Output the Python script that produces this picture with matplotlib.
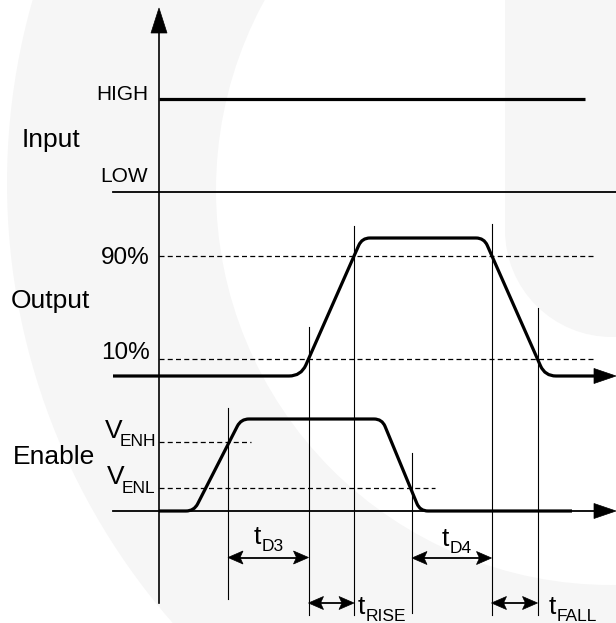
import numpy as np
import matplotlib
matplotlib.use("Agg")
import matplotlib.pyplot as plt
from matplotlib.path import Path
from matplotlib.patches import PathPatch, Circle, Rectangle, Polygon

plt.rcParams['font.family'] = ['Liberation Sans', 'DejaVu Sans']

# ---------------- data (diagram units: x = time, y = level position) ----------------
row_labels = ["Input", "Output", "Enable"]
level_labels = ["HIGH", "LOW", "90%", "10%"]
input_high_y = 99
input_low_y = 191.5
output_levels = [376, 238]            # low, high
output_thresholds = [256, 358.7]      # 90 %, 10 %
output_times = [301, 362, 484, 545]   # rise start, rise end, fall start, fall end
enable_levels = [511, 419]            # low, high
enable_thresholds = [442, 488]        # V_ENH, V_ENL
enable_times = [194, 241, 382, 420]
marker_times = [228, 308.5, 354, 412, 491.5, 537.5]
timing_names = ["D3", "RISE", "D4", "FALL"]

# ---------------- figure ----------------
W, H = 616, 623
fig = plt.figure(figsize=(W / 100, H / 100), dpi=100)
ax = fig.add_axes([0, 0, 1, 1])
ax.set_xlim(0, W)
ax.set_ylim(H, 0)
ax.axis('off')

# faint watermark
wm = '#f6f6f6'
ax.add_patch(Circle((674, 183), 667, fc=wm, ec='none', zorder=0))
ax.add_patch(Circle((611, 190), 395, fc='white', ec='none', zorder=0.1))
ax.add_patch(Rectangle((505, -10), 130, 240, fc=wm, ec='none', zorder=0.2))
ax.add_patch(Circle((612, 230), 107, fc=wm, ec='none', zorder=0.2))
ax.add_patch(Rectangle((612, 220), 20, 117, fc=wm, ec='none', zorder=0.2))

K = 'black'
THICK = 2.3
THIN = 0.8
dash = (0, (4, 2.6))


def rounded_path(pts, radii):
    verts = [pts[0]]
    codes = [Path.MOVETO]
    for i in range(1, len(pts) - 1):
        p0, p1, p2 = (np.array(pts[i - 1], float), np.array(pts[i], float),
                      np.array(pts[i + 1], float))
        d1 = (p1 - p0) / np.linalg.norm(p1 - p0)
        d2 = (p2 - p1) / np.linalg.norm(p2 - p1)
        r = radii[i - 1]
        a = p1 - d1 * r
        b = p1 + d2 * r
        verts += [tuple(a), tuple(p1), tuple(b)]
        codes += [Path.LINETO, Path.CURVE3, Path.CURVE3]
    verts.append(pts[-1])
    codes.append(Path.LINETO)
    return Path(verts, codes)


def double_arrow(x0, x1, y, hl=15, hw=6.5):
    ax.plot([x0 + 4, x1 - 4], [y, y], color=K, lw=1.3, zorder=3)
    for tip, sgn in ((x0, 1), (x1, -1)):
        poly = [(tip, y), (tip + sgn * hl, y - hw), (tip + sgn * hl * 0.8, y),
                (tip + sgn * hl, y + hw)]
        ax.add_patch(Polygon(poly, closed=True, fc=K, ec=K, lw=0.5, zorder=3))


def right_arrowhead(xtip, y, hl=22, hw=7.5):
    poly = [(xtip, y), (xtip - hl, y - hw), (xtip - hl, y + hw)]
    ax.add_patch(Polygon(poly, closed=True, fc=K, ec=K, lw=0.5, zorder=3))


# vertical axis with arrow
axis_x = 159
ax.plot([axis_x, axis_x], [30, 603], color=K, lw=1.2, zorder=3)
ax.add_patch(Polygon([(axis_x, 8), (axis_x - 8, 33), (axis_x + 8, 33)],
                     closed=True, fc=K, ec=K, lw=0.5, zorder=3))

# Input
ax.plot([axis_x, 585], [input_high_y, input_high_y], color=K, lw=THICK, zorder=3,
        solid_capstyle='butt')
ax.plot([113, W], [input_low_y, input_low_y], color=K, lw=1.3, zorder=3)

# Output thresholds
for yy in output_thresholds:
    ax.plot([axis_x, 595], [yy, yy], color=K, lw=0.9, ls=dash, zorder=2)

# Output waveform
lo, hi = output_levels
t0, t1, t2, t3 = output_times
out_pts = [(113, lo), (t0, lo), (t1, hi), (t2, hi), (t3, lo), (596, lo)]
ax.add_patch(PathPatch(rounded_path(out_pts, [12, 8, 8, 11]), fc='none', ec=K,
                       lw=THICK, zorder=4, capstyle='butt', joinstyle='round'))
right_arrowhead(616, lo)

# Enable thresholds
ax.plot([axis_x, 251], [enable_thresholds[0]] * 2, color=K, lw=0.9, ls=dash, zorder=2)
ax.plot([axis_x, 435], [enable_thresholds[1]] * 2, color=K, lw=0.9, ls=dash, zorder=2)

# Enable waveform
elo, ehi = enable_levels
e0, e1, e2, e3 = enable_times
ax.plot([113, 596], [elo, elo], color=K, lw=1.3, zorder=3)
en_pts = [(axis_x, elo), (e0, elo), (e1, ehi), (e2, ehi), (e3, elo), (572, elo)]
ax.add_patch(PathPatch(rounded_path(en_pts, [8, 8, 8, 8]), fc='none', ec=K,
                       lw=THICK, zorder=4, capstyle='butt', joinstyle='round'))
right_arrowhead(616, elo)

# vertical marker lines
marker_spans = [(408, 599), (327, 615), (226, 615), (453, 613), (224, 615), (308, 615)]
for xm, (ya, yb) in zip(marker_times, marker_spans):
    ax.plot([xm, xm], [ya, yb], color=K, lw=THIN, zorder=2)

# timing arrows
m = marker_times
double_arrow(m[0], m[1], 557.5)
double_arrow(m[3], m[4], 558)
double_arrow(m[1], m[2], 603)
double_arrow(m[4], m[5], 603)

# ---------------- text ----------------
ax.text(148, 95, level_labels[0], ha='right', va='center', fontsize=15)
ax.text(148, 176, level_labels[1], ha='right', va='center', fontsize=15)
ax.text(150, 258, level_labels[2], ha='right', va='center', fontsize=17.5)
ax.text(150, 353, level_labels[3], ha='right', va='center', fontsize=17.5)

ax.text(22, 140, row_labels[0], ha='left', va='center', fontsize=19)
ax.text(11, 301, row_labels[1], ha='left', va='center', fontsize=19)
ax.text(13, 457, row_labels[2], ha='left', va='center', fontsize=19)


def sub_label(x, y, main, sub, size=19, subsize=12.5, dx=8, dy=7):
    ax.text(x, y, main, ha='left', va='baseline', fontsize=size, zorder=5)
    ax.text(x + dx, y + dy, sub, ha='left', va='baseline', fontsize=subsize, zorder=5)


sub_label(105, 438, "V", "ENH", dx=15, dy=8)
sub_label(107, 484, "V", "ENL", dx=15, dy=9)

sub_label(254, 544, "t", timing_names[0])
sub_label(358, 614, "t", timing_names[1])
sub_label(442, 546, "t", timing_names[2])
sub_label(549, 614, "t", timing_names[3])

fig.savefig("out.png", dpi=100)
